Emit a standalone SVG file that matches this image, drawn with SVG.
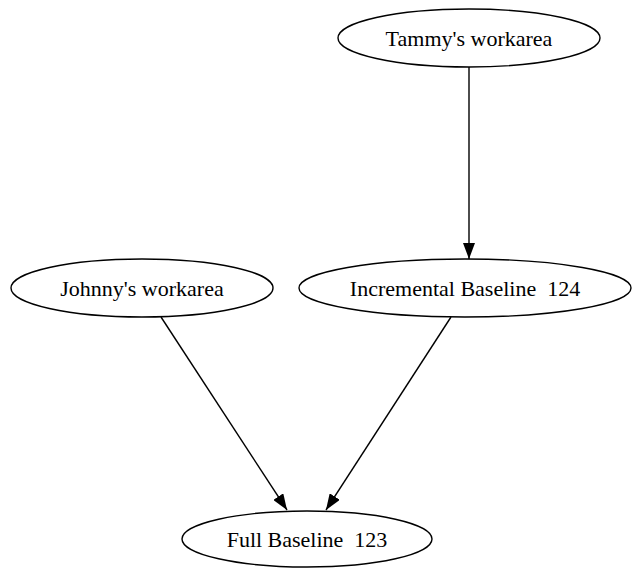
<svg xmlns="http://www.w3.org/2000/svg" width="632" height="568" viewBox="0 0 632 568">
<defs>
<style>
.node ellipse{fill:none;stroke:#000;stroke-width:1.4}
.node text{font-family:"Liberation Serif","Times New Roman",serif;font-size:22px;text-anchor:middle;fill:#000}
.edge{stroke:#000;stroke-width:1.4;fill:none;marker-end:url(#ah)}
</style>
<marker id="ah" viewBox="0 0 16 12" refX="16" refY="6" markerWidth="16" markerHeight="12" markerUnits="userSpaceOnUse" orient="auto">
<path d="M0,0 L16,6 L0,12 Z" fill="#000"/>
</marker>
</defs>
<rect width="632" height="568" fill="#fff"/>
<g id="connectors">
<line class="edge" x1="469" y1="67" x2="469" y2="259"/>
<line class="edge" x1="161" y1="317" x2="287" y2="510"/>
<line class="edge" x1="451" y1="317" x2="326" y2="510"/>
</g>
<g id="tammy" class="node">
<ellipse cx="469" cy="38" rx="131" ry="29"/>
<text x="469" y="46">Tammy's workarea</text>
</g>
<g id="johnny" class="node">
<ellipse cx="142" cy="288" rx="131" ry="29"/>
<text x="142" y="296">Johnny's workarea</text>
</g>
<g id="incremental" class="node">
<ellipse cx="465" cy="288" rx="166" ry="29"/>
<text x="465" y="296" xml:space="preserve">Incremental Baseline  124</text>
</g>
<g id="full" class="node">
<ellipse cx="307" cy="539" rx="125" ry="28"/>
<text x="307" y="547" xml:space="preserve">Full Baseline  123</text>
</g>
</svg>
